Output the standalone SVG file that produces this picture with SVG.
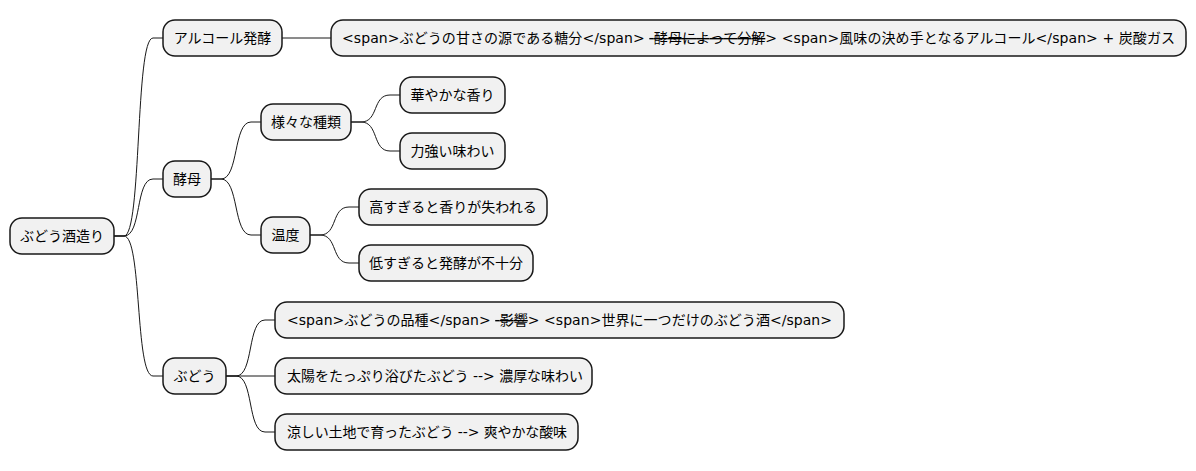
<svg xmlns="http://www.w3.org/2000/svg" width="1196" height="471" viewBox="0 0 1196 471">
<style>
.n rect{fill:#F1F1F1;stroke:#181818;stroke-width:1.5}
.n text{font-family:"DejaVu Sans","Noto Sans CJK JP",sans-serif;font-size:14px;fill:#000}
.s{text-decoration:line-through}
#connectors path{fill:none;stroke:#181818;stroke-width:1}
</style>
<rect width="1196" height="471" fill="#FFFFFF"/>
<g id="connectors">
<path d="M114,236 L124,236 C142,236 135,38 153,38 L163,38"/>
<path d="M114,236 L124,236 C142,236 135,179 153,179 L163,179"/>
<path d="M114,236 L124,236 C142,236 135,376 153,376 L163,376"/>
<path d="M282,38 L331,38"/>
<path d="M211,179 L221,179 C239,179 233,122 251,122 L261,122"/>
<path d="M211,179 L221,179 C239,179 233,235 251,235 L261,235"/>
<path d="M351,122 L361,122 C379,122 372,95 390,95 L400,95"/>
<path d="M351,122 L361,122 C379,122 372,151 390,151 L400,151"/>
<path d="M310,235 L320,235 C338,235 331,207 349,207 L359,207"/>
<path d="M310,235 L320,235 C338,235 331,263 349,263 L359,263"/>
<path d="M226,376 L236,376 C254,376 247,320 265,320 L275,320"/>
<path d="M226,376 L275,376"/>
<path d="M226,376 L236,376 C254,376 247,432 265,432 L275,432"/>
</g>
<g id="root" class="n"><rect x="10" y="218" width="104" height="36" rx="12"/><text x="62" y="241" text-anchor="middle">ぶどう酒造り</text></g>
<g id="alcohol" class="n"><rect x="163" y="20" width="119" height="36" rx="12"/><text x="222.5" y="43" text-anchor="middle">アルコール発酵</text></g>
<g id="alcohol-detail" class="n"><rect x="331" y="20" width="855" height="36" rx="12"/><text x="342" y="43" textLength="833" lengthAdjust="spacing">&lt;span&gt;ぶどうの甘さの源である糖分&lt;/span&gt; <tspan class="s">&#160;酵母によって分解</tspan>&gt; &lt;span&gt;風味の決め手となるアルコール&lt;/span&gt; + 炭酸ガス</text></g>
<g id="yeast" class="n"><rect x="163" y="161" width="48" height="36" rx="12"/><text x="187" y="184" text-anchor="middle">酵母</text></g>
<g id="varieties" class="n"><rect x="261" y="104" width="90" height="36" rx="12"/><text x="306" y="127" text-anchor="middle">様々な種類</text></g>
<g id="aroma" class="n"><rect x="400" y="77" width="105" height="36" rx="12"/><text x="452.5" y="100" text-anchor="middle">華やかな香り</text></g>
<g id="taste" class="n"><rect x="400" y="133" width="105" height="36" rx="12"/><text x="452.5" y="156" text-anchor="middle">力強い味わい</text></g>
<g id="temp" class="n"><rect x="261" y="217" width="49" height="36" rx="12"/><text x="285.5" y="240" text-anchor="middle">温度</text></g>
<g id="temp-high" class="n"><rect x="359" y="189" width="188" height="36" rx="12"/><text x="453" y="212" text-anchor="middle">高すぎると香りが失われる</text></g>
<g id="temp-low" class="n"><rect x="359" y="245" width="174" height="36" rx="12"/><text x="446" y="268" text-anchor="middle">低すぎると発酵が不十分</text></g>
<g id="grape" class="n"><rect x="163" y="358" width="63" height="36" rx="12"/><text x="194.5" y="381" text-anchor="middle">ぶどう</text></g>
<g id="grape-variety" class="n"><rect x="275" y="302" width="569" height="36" rx="12"/><text x="287" y="325" textLength="545" lengthAdjust="spacing">&lt;span&gt;ぶどうの品種&lt;/span&gt; <tspan class="s">&#160;影響</tspan>&gt; &lt;span&gt;世界に一つだけのぶどう酒&lt;/span&gt;</text></g>
<g id="grape-sun" class="n"><rect x="275" y="358" width="317" height="36" rx="12"/><text x="287" y="381" textLength="296" lengthAdjust="spacing">太陽をたっぷり浴びたぶどう --&gt; 濃厚な味わい</text></g>
<g id="grape-cool" class="n"><rect x="275" y="414" width="303" height="36" rx="12"/><text x="287" y="437" textLength="280" lengthAdjust="spacing">涼しい土地で育ったぶどう --&gt; 爽やかな酸味</text></g>
</svg>
